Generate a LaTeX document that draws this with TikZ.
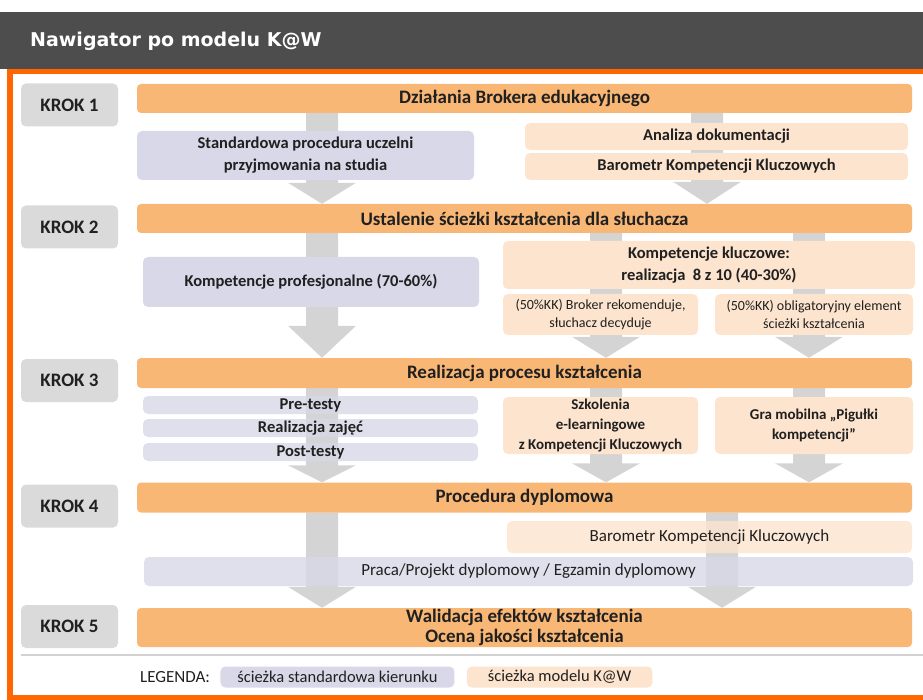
\documentclass[tikz,border=0pt]{standalone}
\usepackage{fontspec}
\setmainfont{Carlito}
\newfontfamily\headfont{DejaVu Sans}
\usetikzlibrary{calc,positioning,backgrounds}

\definecolor{headgrey}{RGB}{77,77,77}
\definecolor{frameorange}{RGB}{255,102,0}
\definecolor{barorange}{RGB}{249,183,118}
\definecolor{kawfill}{RGB}{252,228,206}
\definecolor{stdfill}{RGB}{216,216,232}
\definecolor{krokfill}{RGB}{218,218,218}
\definecolor{flowgrey}{RGB}{212,212,212}
\definecolor{inkgrey}{RGB}{32,32,32}
\definecolor{sepgrey}{RGB}{210,210,210}

% grey block arrow: column, from node, to node, head length
\newcommand\flowarrow[4]{%
  \fill[flowgrey] ($(#2.south -| #1)+(-16,0)$) -- ($(#2.south -| #1)+(16,0)$)
    -- ($(#3.north -| #1)+(16,-#4)$) -- ($(#3.north -| #1)+(34,-#4)$)
    -- (#3.north -| #1) -- ($(#3.north -| #1)+(-34,-#4)$)
    -- ($(#3.north -| #1)+(-16,-#4)$) -- cycle;}

\begin{document}
\begin{tikzpicture}[
  x=1pt, y=-1pt,
  krok/.style={
    fill=krokfill, rounded corners=5pt, inner sep=0pt, text=inkgrey,
    minimum width=97pt, minimum height=43pt,
    font=\fontsize{19}{22}\selectfont\bfseries
  },
  bar/.style={
    fill=barorange, rounded corners=4pt, inner sep=0pt, text=inkgrey,
    minimum width=775pt, minimum height=29pt, align=center,
    font=\fontsize{19}{20}\selectfont\bfseries
  },
  stdbox/.style={
    fill=stdfill, rounded corners=5pt, inner sep=0pt, text=inkgrey,
    align=center, font=\fontsize{16.5}{22}\selectfont\bfseries
  },
  kawbox/.style={
    fill=kawfill, rounded corners=5pt, inner sep=0pt, text=inkgrey,
    align=center, font=\fontsize{16.5}{22}\selectfont\bfseries
  },
  seethru/.style={fill opacity=0.8, text opacity=1},
  small/.style={font=\fontsize{14}{17.5}\selectfont},
  mid/.style={font=\fontsize{15}{20}\selectfont\bfseries},
  plain/.style={font=\fontsize{17}{20}\selectfont}
]
  \useasboundingbox (0,0) rectangle (923,700);

  % header and frame
  \fill[headgrey] (0,12) rectangle (923,69);
  \node[anchor=west, text=white, inner sep=0pt,
    font=\headfont\bfseries\fontsize{19}{21}\selectfont] (title) at (30,41)
    {Nawigator po modelu K@W};
  \draw[frameorange, line width=5.5pt] (930,71.75) -- (9.75,71.75)
    -- (9.75,697.25) -- (930,697.25);

  % steps
  \node[krok] (k1) at (69.5,105) {KROK 1};
  \node[krok] (k2) at (69.5,227) {KROK 2};
  \node[krok] (k3) at (69.5,380.5) {KROK 3};
  \node[krok] (k4) at (69.5,506) {KROK 4};
  \node[krok] (k5) at (69.5,626.5) {KROK 5};

  % main bars
  \node[bar] (b1) at (524.5,98.5) {Działania Brokera edukacyjnego};
  \node[bar] (b2) at (524.5,218.5) {Ustalenie ścieżki kształcenia dla słuchacza};
  \node[bar, minimum height=30pt] (b3) at (524.5,373) {Realizacja procesu kształcenia};
  \node[bar, minimum height=30pt] (b4) at (524.5,497.5) {Procedura dyplomowa};
  \node[bar, minimum height=39pt] (b5) at (524.5,627.5)
    {Walidacja efektów kształcenia\\Ocena jakości kształcenia};

  % step 1
  \node[stdbox, minimum width=337pt, minimum height=49pt] (adm) at (305.5,155.5)
    {Standardowa procedura uczelni\\przyjmowania na studia};
  \node[kawbox, minimum width=383pt, minimum height=27pt] (doc) at (716.5,136.5)
    {Analiza dokumentacji};
  \node[kawbox, minimum width=383pt, minimum height=27pt] (bkk1) at (716.5,166.5)
    {Barometr Kompetencji Kluczowych};

  % step 2
  \node[stdbox, minimum width=336pt, minimum height=50pt] (prof) at (311,282)
    {Kompetencje profesjonalne (70-60\%)};
  \node[kawbox, minimum width=412pt, minimum height=48pt] (key) at (709,265)
    {Kompetencje kluczowe:\\realizacja\ \ 8 z 10 (40-30\%)};
  \node[kawbox, small, minimum width=195pt, minimum height=41pt] (rec) at (600.5,314.5)
    {(50\%KK) Broker rekomenduje,\\słuchacz decyduje};
  \node[kawbox, small, minimum width=198pt, minimum height=41pt] (obl) at (814,314.5)
    {(50\%KK) obligatoryjny element\\ścieżki kształcenia};

  % step 3
  \node[stdbox, seethru, minimum width=335pt, minimum height=18pt] (pre) at (310.5,405)
    {Pre-testy};
  \node[stdbox, seethru, minimum width=335pt, minimum height=18pt] (cls) at (310.5,428)
    {Realizacja zajęć};
  \node[stdbox, seethru, minimum width=335pt, minimum height=18pt] (post) at (310.5,452)
    {Post-testy};
  \node[kawbox, mid, minimum width=195pt, minimum height=57pt] (elrn) at (600.5,425.5)
    {Szkolenia\\e-learningowe\\z Kompetencji Kluczowych};
  \node[kawbox, mid, minimum width=198pt, minimum height=57pt] (game) at (814,425.5)
    {Gra mobilna „Pigułki\\kompetencji”};

  % step 4
  \node[kawbox, seethru, plain, minimum width=405pt, minimum height=32pt] (bkk2) at (709.5,537)
    {Barometr Kompetencji Kluczowych};
  \node[stdbox, seethru, plain, minimum width=769pt, minimum height=29pt] (thesis) at (528.5,571.5)
    {Praca/Projekt dyplomowy / Egzamin dyplomowy};

  % legend
  \draw[sepgrey, line width=1.2pt] (21,655) -- (923,655);
  \node[anchor=west, inner sep=0pt, text=inkgrey, font=\fontsize{17}{19}\selectfont] (leg) at (140,677)
    {LEGENDA:};
  \node[stdbox, font=\fontsize{16.5}{19}\selectfont, minimum height=21pt, inner xsep=17pt,
    right=10pt of leg] (legstd) {ścieżka standardowa kierunku};
  \node[kawbox, font=\fontsize{16.5}{19}\selectfont, minimum height=21pt, inner xsep=21pt,
    right=12pt of legstd] (legkaw) {ścieżka modelu K@W};

  % flow arrows
  \coordinate (colA) at (322,0);
  \coordinate (colB) at (707,0);
  \coordinate (colC) at (606,0);
  \coordinate (colD) at (809,0);
  \coordinate (colE) at (722,0);
  \begin{pgfonlayer}{background}
    \flowarrow{colA}{b1}{b2}{21}
    \flowarrow{colB}{b1}{b2}{22}
    \flowarrow{colA}{b2}{b3}{32}
    \flowarrow{colC}{b2}{b3}{21}
    \flowarrow{colD}{b2}{b3}{21}
    \flowarrow{colA}{b3}{b4}{17}
    \flowarrow{colC}{b3}{b4}{19}
    \flowarrow{colD}{b3}{b4}{19}
    \flowarrow{colA}{b4}{b5}{21}
    \flowarrow{colE}{b4}{b5}{21}
  \end{pgfonlayer}
\end{tikzpicture}
\end{document}
